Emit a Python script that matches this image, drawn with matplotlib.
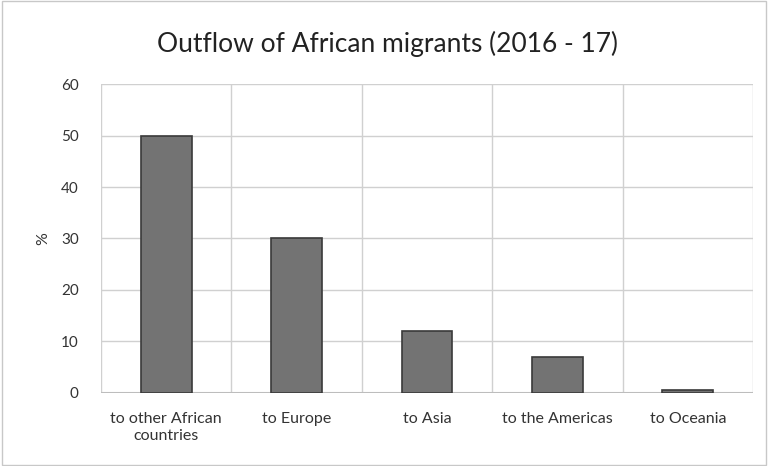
import matplotlib.pyplot as plt
import numpy as np

plt.rcParams['font.family'] = ['Lato', 'DejaVu Sans']

# data
categories = ['to other African\ncountries', 'to Europe', 'to Asia', 'to the Americas', 'to Oceania']
values = [50, 30, 12, 7, 0.6]
yticks = [0, 10, 20, 30, 40, 50, 60]

fig = plt.figure(figsize=(7.68, 4.66), dpi=100)
ax = fig.add_axes([0.1315, 0.1567, 0.849, 0.663])

x = np.arange(len(categories))
ax.bar(x, values, width=0.39, color='#737373', edgecolor='#3a3a3a', linewidth=1.2, zorder=3)

ax.set_xlim(-0.5, len(categories) - 0.5)
ax.set_ylim(0, 60)
ax.set_yticks(yticks)
ax.set_xticks(x)
ax.set_xticklabels(categories, fontsize=11.5, color='#333333')
ax.tick_params(axis='y', labelsize=11, colors='#333333', length=0, pad=16)
ax.tick_params(axis='x', length=0, pad=14)

# grid: horizontal at ticks, vertical at category boundaries
for yv in yticks:
    ax.axhline(yv, color='#d0d0d0', linewidth=1, zorder=1)
for xv in np.arange(-0.5, len(categories), 1.0):
    ax.axvline(xv, color='#d0d0d0', linewidth=1, zorder=1)
ax.axhline(0, color='#bdbdbd', linewidth=1.5, zorder=2)

for s in ax.spines.values():
    s.set_visible(False)

ax.set_ylabel('%', fontsize=11.5, color='#333333', labelpad=8)
fig.text(0.505, 0.905, 'Outflow of African migrants (2016 - 17)', ha='center', va='center',
         fontsize=19, color='#222222')

# outer chart border
fig.patches.append(plt.Rectangle((0.003, 0.003), 0.994, 0.994, transform=fig.transFigure,
                                 fill=False, edgecolor='#c8c8c8', linewidth=1))

fig.savefig('out.png', dpi=100)
